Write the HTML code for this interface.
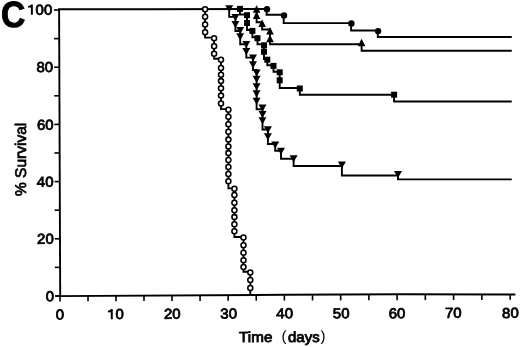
<!DOCTYPE html>
<html><head><meta charset="utf-8"><style>
html,body{margin:0;padding:0;background:#fff;width:520px;height:347px;overflow:hidden}
svg{display:block;filter:grayscale(1)} text{text-rendering:geometricPrecision}
</style></head><body>
<svg width="520" height="347" viewBox="0 0 520 347">
<path d="M59.10,9.0 L60.20,296.5" stroke="#000" stroke-width="1.9" fill="none"/>
<path d="M55.5,296.1 L285,294.8 L400,294.3 L515.4,294.5" stroke="#000" stroke-width="1.9" fill="none"/>
<path d="M55.00,296.00 H60.20" stroke="#000" stroke-width="1.6"/>
<path d="M54.89,267.40 H60.09" stroke="#000" stroke-width="1.6"/>
<path d="M54.78,238.80 H59.98" stroke="#000" stroke-width="1.6"/>
<path d="M54.67,210.20 H59.87" stroke="#000" stroke-width="1.6"/>
<path d="M54.56,181.60 H59.76" stroke="#000" stroke-width="1.6"/>
<path d="M54.45,153.00 H59.65" stroke="#000" stroke-width="1.6"/>
<path d="M54.34,124.40 H59.54" stroke="#000" stroke-width="1.6"/>
<path d="M54.23,95.80 H59.43" stroke="#000" stroke-width="1.6"/>
<path d="M54.12,67.20 H59.32" stroke="#000" stroke-width="1.6"/>
<path d="M54.01,38.60 H59.21" stroke="#000" stroke-width="1.6"/>
<path d="M53.90,10.00 H59.10" stroke="#000" stroke-width="1.6"/>
<path d="M60.05,296.00 V301.40" stroke="#000" stroke-width="1.6"/>
<path d="M88.01,295.90 V301.30" stroke="#000" stroke-width="1.6"/>
<path d="M115.99,295.80 V301.20" stroke="#000" stroke-width="1.6"/>
<path d="M143.99,295.70 V301.10" stroke="#000" stroke-width="1.6"/>
<path d="M172.02,295.60 V301.00" stroke="#000" stroke-width="1.6"/>
<path d="M200.07,295.50 V300.90" stroke="#000" stroke-width="1.6"/>
<path d="M228.14,295.40 V300.80" stroke="#000" stroke-width="1.6"/>
<path d="M256.24,295.30 V300.70" stroke="#000" stroke-width="1.6"/>
<path d="M284.37,295.20 V300.60" stroke="#000" stroke-width="1.6"/>
<path d="M312.51,295.10 V300.50" stroke="#000" stroke-width="1.6"/>
<path d="M340.68,295.00 V300.40" stroke="#000" stroke-width="1.6"/>
<path d="M368.87,294.90 V300.30" stroke="#000" stroke-width="1.6"/>
<path d="M397.09,294.80 V300.20" stroke="#000" stroke-width="1.6"/>
<path d="M425.33,294.70 V300.10" stroke="#000" stroke-width="1.6"/>
<path d="M453.59,294.60 V300.00" stroke="#000" stroke-width="1.6"/>
<path d="M481.88,294.50 V299.90" stroke="#000" stroke-width="1.6"/>
<path d="M510.19,294.40 V299.80" stroke="#000" stroke-width="1.6"/>
<text transform="translate(52.30,14.65) scale(1.05,1) rotate(-0.19)" font-family="Liberation Sans, sans-serif" font-size="14.3" stroke="#000" stroke-width="0.78" text-anchor="end">00</text>
<text transform="translate(53.10,71.85) scale(1.05,1) rotate(-0.19)" font-family="Liberation Sans, sans-serif" font-size="14.3" stroke="#000" stroke-width="0.78" text-anchor="end">80</text>
<text transform="translate(53.60,129.65) scale(1.05,1) rotate(-0.19)" font-family="Liberation Sans, sans-serif" font-size="14.3" stroke="#000" stroke-width="0.78" text-anchor="end">60</text>
<text transform="translate(53.50,186.75) scale(1.05,1) rotate(-0.19)" font-family="Liberation Sans, sans-serif" font-size="14.3" stroke="#000" stroke-width="0.78" text-anchor="end">40</text>
<text transform="translate(53.80,243.75) scale(1.05,1) rotate(-0.19)" font-family="Liberation Sans, sans-serif" font-size="14.3" stroke="#000" stroke-width="0.78" text-anchor="end">20</text>
<text transform="translate(54.20,301.20) scale(1.05,1) rotate(-0.19)" font-family="Liberation Sans, sans-serif" font-size="14.3" stroke="#000" stroke-width="0.78" text-anchor="end">0</text>
<path d="M32.85,4.50 V14.70 H30.90 V7.60 C30.00,7.60 28.70,7.70 28.00,7.80 V6.10 C29.50,6.00 30.70,5.40 31.10,4.50 Z" fill="#000"/>
<text transform="translate(60.00,319.55) scale(1.05,1) rotate(-0.19)" font-family="Liberation Sans, sans-serif" font-size="14.3" stroke="#000" stroke-width="0.78" text-anchor="middle">0</text>
<text transform="translate(115.6,318.95) scale(1.05,1) rotate(-0.19)" font-family="Liberation Sans, sans-serif" font-size="14.3" stroke="#000" stroke-width="0.78">0</text>
<path d="M112.75,309.10 V319.20 H110.80 V312.20 C109.90,312.20 108.60,312.30 107.90,312.40 V310.70 C109.40,310.60 110.60,310.00 111.00,309.10 Z" fill="#000"/>
<text transform="translate(172.30,318.75) scale(1.05,1) rotate(-0.19)" font-family="Liberation Sans, sans-serif" font-size="14.3" stroke="#000" stroke-width="0.78" text-anchor="middle">20</text>
<text transform="translate(228.70,318.45) scale(1.05,1) rotate(-0.19)" font-family="Liberation Sans, sans-serif" font-size="14.3" stroke="#000" stroke-width="0.78" text-anchor="middle">30</text>
<text transform="translate(284.70,318.15) scale(1.05,1) rotate(-0.19)" font-family="Liberation Sans, sans-serif" font-size="14.3" stroke="#000" stroke-width="0.78" text-anchor="middle">40</text>
<text transform="translate(341.20,318.15) scale(1.05,1) rotate(-0.19)" font-family="Liberation Sans, sans-serif" font-size="14.3" stroke="#000" stroke-width="0.78" text-anchor="middle">50</text>
<text transform="translate(397.10,318.15) scale(1.05,1) rotate(-0.19)" font-family="Liberation Sans, sans-serif" font-size="14.3" stroke="#000" stroke-width="0.78" text-anchor="middle">60</text>
<text transform="translate(453.30,317.75) scale(1.05,1) rotate(-0.19)" font-family="Liberation Sans, sans-serif" font-size="14.3" stroke="#000" stroke-width="0.78" text-anchor="middle">70</text>
<text transform="translate(510.40,317.85) scale(1.05,1) rotate(-0.19)" font-family="Liberation Sans, sans-serif" font-size="14.3" stroke="#000" stroke-width="0.78" text-anchor="middle">80</text>
<text transform="translate(239.1,342.0) scale(1.05,1) rotate(-0.19)" font-family="Liberation Sans, sans-serif" font-size="14.5" stroke="#000" stroke-width="0.78">Time</text>
<text x="281.5" y="341.0" font-family="Liberation Sans, sans-serif" font-size="15">(</text>
<text transform="translate(288.0,342.0) scale(1.035,1) rotate(-0.19)" font-family="Liberation Sans, sans-serif" font-size="14.5" stroke="#000" stroke-width="0.78">days</text>
<text x="320.5" y="340.6" font-family="Liberation Sans, sans-serif" font-size="15">)</text>
<text transform="translate(25.6,196) rotate(-90)" font-family="Liberation Sans, sans-serif" font-size="15.5" stroke="#000" stroke-width="0.7">% Survival</text>
<text transform="translate(1.1,26.9) scale(0.925,1) rotate(-0.19)" font-family="Liberation Sans, sans-serif" font-size="36.4" font-weight="bold" stroke="#000" stroke-width="1.0">C</text>
<path d="M59.10,9.30 L150.00,9.20 L267.00,9.00" stroke="#000" stroke-width="1.9" fill="none" stroke-linejoin="miter" stroke-linecap="square"/>
<path d="M205.10,9.20 L205.10,9.20 L205.10,37.60 L214.10,37.60 L214.10,58.80 L221.00,58.80 L221.00,109.10 L228.40,109.10 L228.40,188.40 L234.40,188.40 L234.40,237.00 L243.50,237.00 L243.50,271.80 L250.30,271.80 L250.30,295.00" stroke="#000" stroke-width="1.9" fill="none" stroke-linejoin="miter" stroke-linecap="square"/>
<circle cx="205.1" cy="9.2" r="2.5" fill="#fff" stroke="#000" stroke-width="1.55"/>
<circle cx="205.1" cy="16.7" r="2.5" fill="#fff" stroke="#000" stroke-width="1.55"/>
<circle cx="205.1" cy="24.5" r="2.5" fill="#fff" stroke="#000" stroke-width="1.55"/>
<circle cx="205.1" cy="32.3" r="2.5" fill="#fff" stroke="#000" stroke-width="1.55"/>
<circle cx="214.1" cy="38.2" r="2.5" fill="#fff" stroke="#000" stroke-width="1.55"/>
<circle cx="214.1" cy="46.2" r="2.5" fill="#fff" stroke="#000" stroke-width="1.55"/>
<circle cx="214.1" cy="53.8" r="2.5" fill="#fff" stroke="#000" stroke-width="1.55"/>
<circle cx="221.0" cy="59.8" r="2.5" fill="#fff" stroke="#000" stroke-width="1.55"/>
<circle cx="221.0" cy="67.9" r="2.5" fill="#fff" stroke="#000" stroke-width="1.55"/>
<circle cx="221.0" cy="74.8" r="2.5" fill="#fff" stroke="#000" stroke-width="1.55"/>
<circle cx="221.0" cy="81.1" r="2.5" fill="#fff" stroke="#000" stroke-width="1.55"/>
<circle cx="221.0" cy="88.3" r="2.5" fill="#fff" stroke="#000" stroke-width="1.55"/>
<circle cx="221.0" cy="95.6" r="2.5" fill="#fff" stroke="#000" stroke-width="1.55"/>
<circle cx="221.0" cy="103.5" r="2.5" fill="#fff" stroke="#000" stroke-width="1.55"/>
<circle cx="228.4" cy="109.8" r="2.5" fill="#fff" stroke="#000" stroke-width="1.55"/>
<circle cx="228.4" cy="116.7" r="2.5" fill="#fff" stroke="#000" stroke-width="1.55"/>
<circle cx="228.4" cy="124.3" r="2.5" fill="#fff" stroke="#000" stroke-width="1.55"/>
<circle cx="228.4" cy="131.8" r="2.5" fill="#fff" stroke="#000" stroke-width="1.55"/>
<circle cx="228.4" cy="139.6" r="2.5" fill="#fff" stroke="#000" stroke-width="1.55"/>
<circle cx="228.4" cy="146.5" r="2.5" fill="#fff" stroke="#000" stroke-width="1.55"/>
<circle cx="228.4" cy="153.1" r="2.5" fill="#fff" stroke="#000" stroke-width="1.55"/>
<circle cx="228.4" cy="160.0" r="2.5" fill="#fff" stroke="#000" stroke-width="1.55"/>
<circle cx="228.4" cy="166.9" r="2.5" fill="#fff" stroke="#000" stroke-width="1.55"/>
<circle cx="228.4" cy="174.0" r="2.5" fill="#fff" stroke="#000" stroke-width="1.55"/>
<circle cx="228.4" cy="181.3" r="2.5" fill="#fff" stroke="#000" stroke-width="1.55"/>
<circle cx="234.4" cy="188.7" r="2.5" fill="#fff" stroke="#000" stroke-width="1.55"/>
<circle cx="234.4" cy="195.0" r="2.5" fill="#fff" stroke="#000" stroke-width="1.55"/>
<circle cx="234.4" cy="202.7" r="2.5" fill="#fff" stroke="#000" stroke-width="1.55"/>
<circle cx="234.4" cy="210.2" r="2.5" fill="#fff" stroke="#000" stroke-width="1.55"/>
<circle cx="234.4" cy="217.1" r="2.5" fill="#fff" stroke="#000" stroke-width="1.55"/>
<circle cx="234.4" cy="224.3" r="2.5" fill="#fff" stroke="#000" stroke-width="1.55"/>
<circle cx="234.4" cy="231.3" r="2.5" fill="#fff" stroke="#000" stroke-width="1.55"/>
<circle cx="243.5" cy="237.5" r="2.5" fill="#fff" stroke="#000" stroke-width="1.55"/>
<circle cx="243.5" cy="245.2" r="2.5" fill="#fff" stroke="#000" stroke-width="1.55"/>
<circle cx="243.5" cy="252.7" r="2.5" fill="#fff" stroke="#000" stroke-width="1.55"/>
<circle cx="243.5" cy="260.2" r="2.5" fill="#fff" stroke="#000" stroke-width="1.55"/>
<circle cx="243.5" cy="267.0" r="2.5" fill="#fff" stroke="#000" stroke-width="1.55"/>
<circle cx="250.3" cy="272.4" r="2.5" fill="#fff" stroke="#000" stroke-width="1.55"/>
<circle cx="250.3" cy="279.9" r="2.5" fill="#fff" stroke="#000" stroke-width="1.55"/>
<circle cx="250.3" cy="288.0" r="2.5" fill="#fff" stroke="#000" stroke-width="1.55"/>
<path d="M229.20,9.10 L229.20,9.10 L229.20,16.90 L235.40,16.90 L235.40,31.00 L240.20,31.00 L240.20,44.20 L246.30,44.20 L246.30,57.60 L253.00,57.60 L253.00,70.00 L256.60,70.00 L256.60,109.20 L262.50,109.20 L262.50,129.50 L267.90,129.50 L267.90,144.00 L275.20,144.00 L275.20,150.80 L281.00,150.80 L281.00,158.70 L293.60,158.70 L293.60,166.00 L341.90,166.00 L341.90,175.50 L398.00,175.50 L398.00,179.40 L510.80,179.40" stroke="#000" stroke-width="1.9" fill="none" stroke-linejoin="miter" stroke-linecap="square"/>
<path d="M225.20,5.20 H233.20 L229.20,12.20 Z" fill="#000"/>
<path d="M231.40,14.10 H239.40 L235.40,21.10 Z" fill="#000"/>
<path d="M231.40,20.90 H239.40 L235.40,27.90 Z" fill="#000"/>
<path d="M236.20,27.00 H244.20 L240.20,34.00 Z" fill="#000"/>
<path d="M236.20,33.20 H244.20 L240.20,40.20 Z" fill="#000"/>
<path d="M242.30,41.10 H250.30 L246.30,48.10 Z" fill="#000"/>
<path d="M242.30,48.10 H250.30 L246.30,55.10 Z" fill="#000"/>
<path d="M249.00,54.40 H257.00 L253.00,61.40 Z" fill="#000"/>
<path d="M249.00,61.20 H257.00 L253.00,68.20 Z" fill="#000"/>
<path d="M252.60,69.40 H260.60 L256.60,76.40 Z" fill="#000"/>
<path d="M252.60,75.80 H260.60 L256.60,82.80 Z" fill="#000"/>
<path d="M252.60,83.30 H260.60 L256.60,90.30 Z" fill="#000"/>
<path d="M252.60,90.20 H260.60 L256.60,97.20 Z" fill="#000"/>
<path d="M252.60,97.70 H260.60 L256.60,104.70 Z" fill="#000"/>
<path d="M258.50,104.60 H266.50 L262.50,111.60 Z" fill="#000"/>
<path d="M258.50,111.00 H266.50 L262.50,118.00 Z" fill="#000"/>
<path d="M258.50,117.30 H266.50 L262.50,124.30 Z" fill="#000"/>
<path d="M263.90,126.30 H271.90 L267.90,133.30 Z" fill="#000"/>
<path d="M263.90,133.20 H271.90 L267.90,140.20 Z" fill="#000"/>
<path d="M271.20,141.60 H279.20 L275.20,148.60 Z" fill="#000"/>
<path d="M277.00,147.80 H285.00 L281.00,154.80 Z" fill="#000"/>
<path d="M289.60,155.20 H297.60 L293.60,162.20 Z" fill="#000"/>
<path d="M337.90,161.60 H345.90 L341.90,168.60 Z" fill="#000"/>
<path d="M394.00,171.10 H402.00 L398.00,178.10 Z" fill="#000"/>
<path d="M239.90,9.10 L239.90,9.10 L239.90,14.50 L247.00,14.50 L247.00,30.00 L252.40,30.00 L252.40,37.20 L257.50,37.20 L257.50,44.30 L264.00,44.30 L264.00,59.00 L267.30,59.00 L267.30,65.20 L273.50,65.20 L273.50,71.80 L279.70,71.80 L279.70,88.00 L299.80,88.00 L299.80,94.80 L394.10,94.80 L394.10,101.50 L510.80,101.50" stroke="#000" stroke-width="1.9" fill="none" stroke-linejoin="miter" stroke-linecap="square"/>
<rect x="236.90" y="5.90" width="6.0" height="6.0" fill="#000"/>
<rect x="244.00" y="12.20" width="6.0" height="6.0" fill="#000"/>
<rect x="244.00" y="20.00" width="6.0" height="6.0" fill="#000"/>
<rect x="249.40" y="27.90" width="6.0" height="6.0" fill="#000"/>
<rect x="254.50" y="35.20" width="6.0" height="6.0" fill="#000"/>
<rect x="261.00" y="42.30" width="6.0" height="6.0" fill="#000"/>
<rect x="261.00" y="48.80" width="6.0" height="6.0" fill="#000"/>
<rect x="264.30" y="56.70" width="6.0" height="6.0" fill="#000"/>
<rect x="270.50" y="62.90" width="6.0" height="6.0" fill="#000"/>
<rect x="276.70" y="69.30" width="6.0" height="6.0" fill="#000"/>
<rect x="276.70" y="77.30" width="6.0" height="6.0" fill="#000"/>
<rect x="296.80" y="85.50" width="6.0" height="6.0" fill="#000"/>
<rect x="391.10" y="91.70" width="6.0" height="6.0" fill="#000"/>
<path d="M256.60,9.00 L256.60,9.00 L256.60,22.30 L262.10,22.30 L262.10,29.50 L270.00,29.50 L270.00,44.20 L361.60,44.20 L361.60,50.80 L510.80,50.80" stroke="#000" stroke-width="1.9" fill="none" stroke-linejoin="miter" stroke-linecap="square"/>
<path d="M256.60,5.20 L260.40,12.70 H252.80 Z" fill="#000"/>
<path d="M256.60,11.40 L260.40,18.90 H252.80 Z" fill="#000"/>
<path d="M262.10,19.40 L265.90,26.90 H258.30 Z" fill="#000"/>
<path d="M270.00,27.10 L273.80,34.60 H266.20 Z" fill="#000"/>
<path d="M270.00,34.80 L273.80,42.30 H266.20 Z" fill="#000"/>
<path d="M361.60,38.80 L365.40,46.30 H357.80 Z" fill="#000"/>
<path d="M266.60,9.00 L266.60,9.00 L266.60,14.80 L283.70,14.80 L283.70,23.10 L351.10,23.10 L351.10,30.50 L377.80,30.50 L377.80,37.00 L510.80,37.00" stroke="#000" stroke-width="1.9" fill="none" stroke-linejoin="miter" stroke-linecap="square"/>
<circle cx="267.0" cy="9.2" r="3.2" fill="#000"/>
<circle cx="284.0" cy="15.4" r="3.2" fill="#000"/>
<circle cx="351.40000000000003" cy="23.5" r="3.2" fill="#000"/>
<circle cx="378.1" cy="31.1" r="3.2" fill="#000"/>
</svg>
</body></html>
